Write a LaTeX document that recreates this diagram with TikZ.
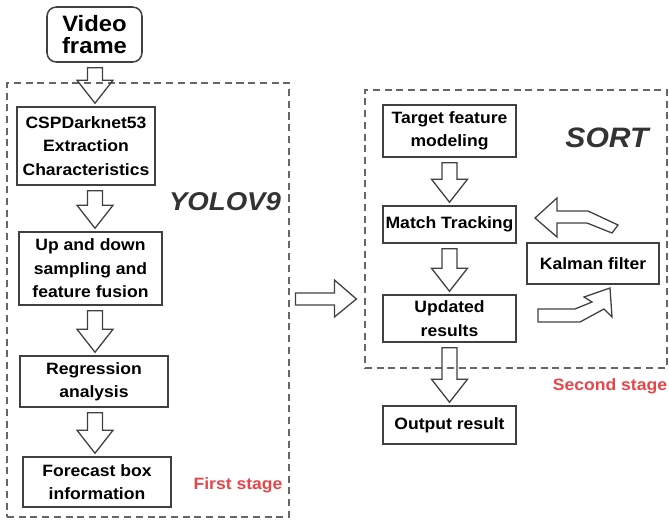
\documentclass[tikz,border=0pt]{standalone}
\usepackage{fontspec}
\setmainfont[FakeStretch=1.07]{Liberation Sans}
\usetikzlibrary{calc}

\definecolor{boxline}{HTML}{404040}
\definecolor{stagered}{HTML}{E8454A}
\definecolor{titlegray}{HTML}{333333}

\begin{document}
\begin{tikzpicture}[x=0.03cm, y=-0.03cm,
  box/.style={draw=boxline, line width=1.3pt, inner sep=0pt, align=center,
    font=\bfseries\fontsize{14}{20}\selectfont},
  stagebox/.style={draw=black!60, line width=1pt, dash pattern=on 6pt off 4pt, inner sep=0pt},
  hollow/.style={draw=boxline, line width=1.1pt, line join=miter},
  title/.style={font=\bfseries\itshape\fontsize{22}{24}\selectfont, text=titlegray},
  stagelabel/.style={font=\bfseries\fontsize{14}{18}\selectfont, text=stagered}]
\useasboundingbox (0,0) rectangle (669,521);

% Stage frames
\node[stagebox, minimum width=8.46cm, minimum height=13.02cm] (stageL) at (148,300) {};
\node[stagebox, minimum width=9.06cm, minimum height=8.34cm] (stageR) at (516,229) {};

% First stage: YOLOV9
\node[box, rounded corners=8pt, minimum width=2.85cm, minimum height=1.65cm,
  font=\bfseries\fontsize{19}{19}\selectfont] (video) at (94.5,34.5) {Video\\frame};
\node[box, minimum width=4.14cm, minimum height=2.34cm] (csp) at (86,146)
  {CSPDarknet53\\Extraction\\Characteristics};
\node[box, minimum width=4.29cm, minimum height=2.19cm] (ud) at (90.5,268.5)
  {Up and down\\sampling and\\feature fusion};
\node[box, minimum width=4.44cm, minimum height=1.53cm] (reg) at (94,381.5)
  {Regression\\analysis};
\node[box, minimum width=4.44cm, minimum height=1.5cm] (fc) at (97,482)
  {Forecast box\\information};
\node[title] (yolo) at (225,202) {YOLOV9};
\node[stagelabel] (first) at (238,485) {First stage};

% Second stage: SORT
\node[box, minimum width=3.99cm, minimum height=1.56cm] (target) at (449.5,131)
  {Target feature\\modeling};
\node[box, minimum width=3.99cm, minimum height=1.11cm] (match) at (449.5,224.5)
  {Match Tracking};
\node[box, minimum width=3.96cm, minimum height=1.23cm] (kalman) at (593,263.5)
  {Kalman filter};
\node[box, minimum width=3.99cm, minimum height=1.41cm] (upd) at (449.5,318.5)
  {Updated\\results};
\node[box, minimum width=3.99cm, minimum height=1.14cm] (out) at (449.5,425)
  {Output result};
\node[title, font=\bfseries\itshape\fontsize{24}{26}\selectfont] (sort) at (607,138) {SORT};
\node[stagelabel] (second) at (610,386) {Second stage};

% Hollow down arrows
\foreach \a/\b/\c in {video/csp/95, csp/ud/95, ud/reg/95, reg/fc/95,
    target/match/449.5, match/upd/449.5, upd/out/449.5}{
  \path (\c,0) coordinate (cx);
  \path (\a.south -| cx) ++(0,5) coordinate (top);
  \path (\b.north -| cx) ++(0,-3) coordinate (tip);
  \draw[hollow] ($(top)+(-7.5,0)$) -- ($(tip)+(-7.5,-23)$) -- ($(tip)+(-18,-23)$)
    -- (tip) -- ($(tip)+(18,-23)$) -- ($(tip)+(7.5,-23)$) -- ($(top)+(7.5,0)$) -- cycle;
}

% Arrow between the stages
\coordinate (tail) at ($(stageL.east)+(6,-1)$);
\coordinate (head) at ($(stageR.west)+(-8,0)$);
\draw[hollow] ($(tail)+(0,-6)$) -- ($(tail -| head)+(-22,-6)$) -- ($(tail -| head)+(-22,-19)$)
  -- (tail -| head) -- ($(tail -| head)+(-22,18)$) -- ($(tail -| head)+(-22,6)$)
  -- ($(tail)+(0,6)$) -- cycle;

% Bent arrows round the Kalman filter
\draw[hollow] (535,218) -- (557,198) -- (557,211) -- (588,211) -- (618,225) -- (612,233)
  -- (587,223) -- (557,223) -- (557,237) -- cycle;
\draw[hollow] (538,309) -- (575,309) -- (592,302) -- (584,297) -- (610,288) -- (612,317)
  -- (604,309) -- (580,322) -- (538,322) -- cycle;

\end{tikzpicture}
\end{document}
